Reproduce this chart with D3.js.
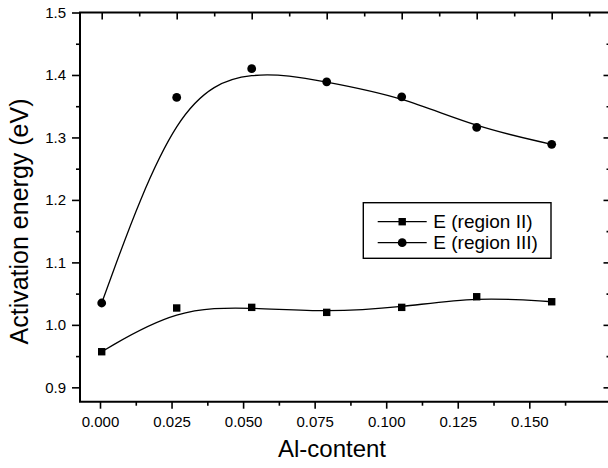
<!DOCTYPE html>
<html>
<head>
<meta charset="utf-8">
<script src="https://cdn.jsdelivr.net/npm/d3@7"></script>
<style>
  body { margin: 0; background: #fff; }
  svg { display: block; font-family: Arial, "Liberation Sans", sans-serif; }
  .axis path.domain { display: none; }
  .axis line { stroke: #000; stroke-width: 1.6; }
  .axis text { font-size: 15px; fill: #000; }
</style>
</head>
<body>
<div id="chart"></div>
<script>
// Al-content vs activation energy
const alContent = [0, 0.025, 0.05, 0.075, 0.1, 0.125, 0.15];
const regionII  = [0.957, 1.027, 1.028, 1.020, 1.028, 1.045, 1.037];
const regionIII = [1.035, 1.364, 1.410, 1.389, 1.365, 1.316, 1.289];
const seriesNames = ["E (region II)", "E (region III)"];
const xTicks = [0, 0.025, 0.05, 0.075, 0.1, 0.125, 0.15];
const yTicks = [0.9, 1.0, 1.1, 1.2, 1.3, 1.4, 1.5];

const width = 608, height = 468;
const frame = {left: 80, right: 609, top: 12.5, bottom: 401.7};

const svg = d3.select("#chart").append("svg")
    .attr("width", width)
    .attr("height", height);

// data scale (also drives the top ticks)
const x = d3.scaleLinear().domain([0, 0.15]).range([101.7, 551.7]);
// bottom labelled axis sits on a slightly narrower scale in the original
const xBottom = d3.scaleLinear().domain([0, 0.15]).range([100, 529.3]);
const y = d3.scaleLinear().domain([0.877, 1.5]).range([frame.bottom, frame.top]);

let xMinor = xTicks.map(d => d + 0.0125);
let yMinor = yTicks.map(d => d + 0.05).filter(d => d < 1.5);

// bottom axis
svg.append("g").attr("class", "axis")
    .attr("transform", "translate(0," + frame.bottom + ")")
    .call(d3.axisBottom(xBottom).tickValues(xTicks).tickSize(7).tickPadding(8)
        .tickFormat(d3.format(".3f")));
svg.append("g").attr("class", "axis")
    .attr("transform", "translate(0," + frame.bottom + ")")
    .call(d3.axisBottom(xBottom).tickValues(xMinor).tickSize(4).tickFormat(""));

// top axis, inward ticks
svg.append("g").attr("class", "axis")
    .attr("transform", "translate(0," + frame.top + ")")
    .call(d3.axisBottom(x).tickValues(xTicks).tickSize(7).tickFormat(""));
svg.append("g").attr("class", "axis")
    .attr("transform", "translate(0," + frame.top + ")")
    .call(d3.axisBottom(x).tickValues(xMinor.filter(d => x(d) < frame.right)).tickSize(4).tickFormat(""));

// left axis
svg.append("g").attr("class", "axis")
    .attr("transform", "translate(" + frame.left + ",0)")
    .call(d3.axisLeft(y).tickValues(yTicks).tickSize(8).tickPadding(6)
        .tickFormat(d3.format(".1f")));
svg.append("g").attr("class", "axis")
    .attr("transform", "translate(" + frame.left + ",0)")
    .call(d3.axisLeft(y).tickValues(yMinor).tickSize(4).tickFormat(""));

// right axis, inward ticks
svg.append("g").attr("class", "axis")
    .attr("transform", "translate(" + frame.right + ",0)")
    .call(d3.axisLeft(y).tickValues(yTicks.filter(d => d < 1.5)).tickSize(5.5).tickFormat(""));
svg.append("g").attr("class", "axis")
    .attr("transform", "translate(" + frame.right + ",0)")
    .call(d3.axisLeft(y).tickValues(yMinor).tickSize(2.5).tickFormat(""));

// frame (no right edge visible, it is cut off)
svg.append("path")
    .attr("d", "M" + frame.right + "," + frame.top + "H" + frame.left + "V" + frame.bottom + "H" + frame.right)
    .attr("fill", "none")
    .attr("stroke", "#000")
    .attr("stroke-width", 2);

// B-spline lines
const line = d3.line()
    .x(d => x(d[0]))
    .y(d => y(d[1]))
    .curve(d3.curveBasis);

const s2 = alContent.map((d, i) => [d, regionII[i]]);
const s3 = alContent.map((d, i) => [d, regionIII[i]]);

[s2, s3].forEach(s => {
    svg.append("path")
        .datum(s)
        .attr("d", line)
        .attr("fill", "none")
        .attr("stroke", "#000")
        .attr("stroke-width", 1.3);
});

svg.selectAll(".sq")
    .data(s2)
    .enter().append("rect")
    .attr("class", "sq")
    .attr("x", d => x(d[0]) - 3.7)
    .attr("y", d => y(d[1]) - 3.7)
    .attr("width", 7.4)
    .attr("height", 7.4)
    .attr("fill", "#000");

svg.selectAll(".dot")
    .data(s3)
    .enter().append("circle")
    .attr("class", "dot")
    .attr("cx", d => x(d[0]))
    .attr("cy", d => y(d[1]))
    .attr("r", 4.4)
    .attr("fill", "#000");

// legend
const lg = svg.append("g").attr("transform", "translate(363.3,202.7)");
lg.append("rect")
    .attr("width", 187.7)
    .attr("height", 55.6)
    .attr("fill", "#fff")
    .attr("stroke", "#000")
    .attr("stroke-width", 1.4);

seriesNames.forEach((name, i) => {
    let ly = 19 + i * 21;
    lg.append("line")
        .attr("x1", 14.4).attr("x2", 63.4)
        .attr("y1", ly).attr("y2", ly)
        .attr("stroke", "#000").attr("stroke-width", 1.3);
    if (i === 0) {
        lg.append("rect")
            .attr("x", 38.9 - 3.7).attr("y", ly - 3.7)
            .attr("width", 7.4).attr("height", 7.4)
            .attr("fill", "#000");
    } else {
        lg.append("circle")
            .attr("cx", 38.9).attr("cy", ly)
            .attr("r", 4.4)
            .attr("fill", "#000");
    }
    lg.append("text")
        .attr("x", 70)
        .attr("y", ly + 6.8)
        .attr("font-size", 19)
        .text(name);
});

// axis titles
svg.append("text")
    .attr("text-anchor", "middle")
    .attr("x", 332)
    .attr("y", 456.7)
    .attr("font-size", 24)
    .text("Al-content");

svg.append("text")
    .attr("text-anchor", "middle")
    .attr("transform", "translate(28,221.5)rotate(-90)")
    .attr("font-size", 25)
    .text("Activation energy (eV)");
</script>
</body>
</html>
